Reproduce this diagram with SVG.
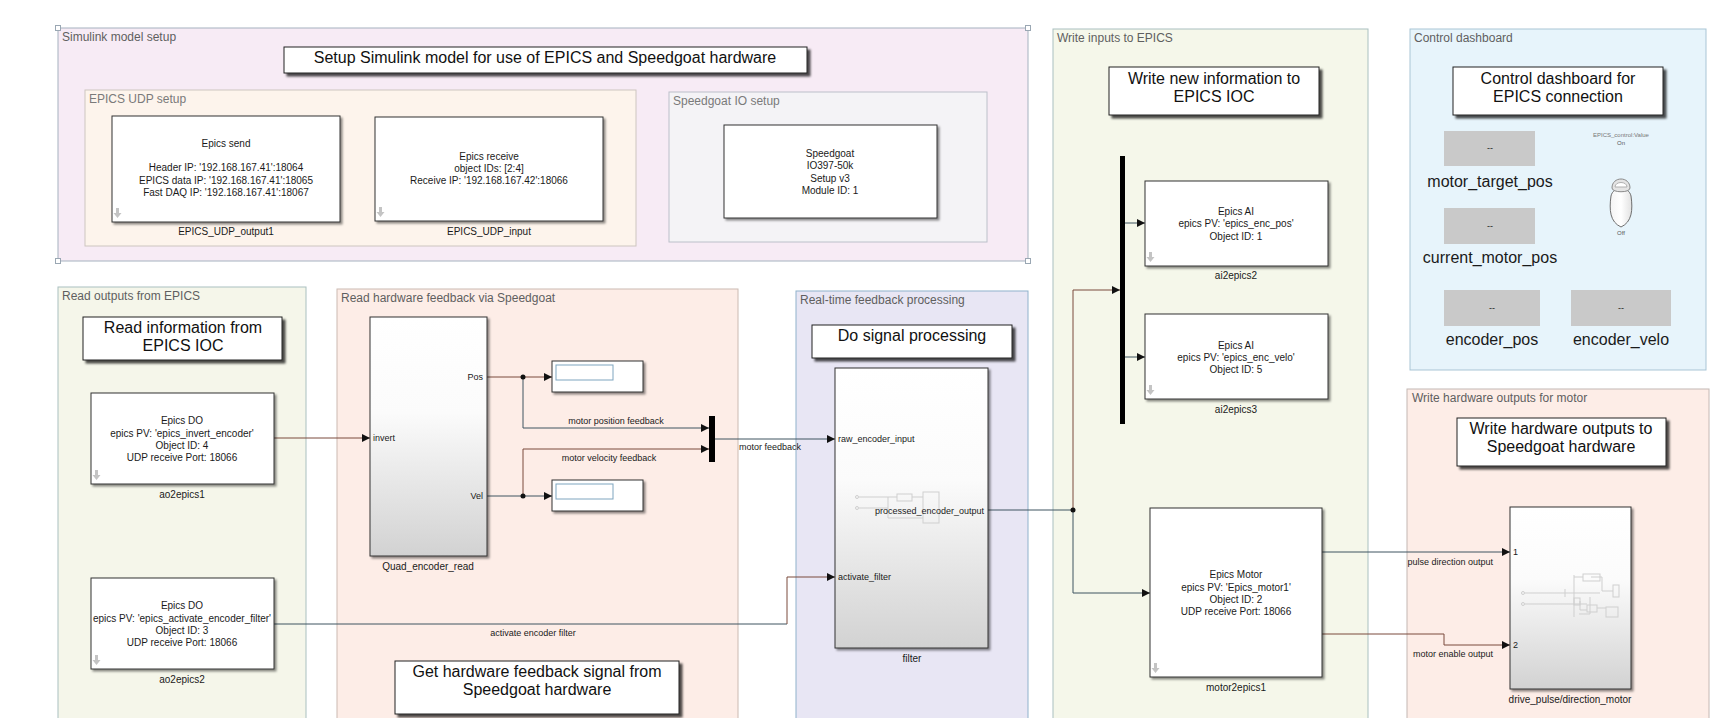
<svg xmlns="http://www.w3.org/2000/svg" width="1729" height="718" viewBox="0 0 1729 718">
<style>
text{font-family:"Liberation Sans",Arial,sans-serif;fill:#1a1a1a}
.area{stroke-width:1}
.alabel{font-size:12px;fill:#5f5f5f}
.title{fill:#fff;stroke:#222;stroke-width:1;filter:url(#tsh)}
.ttext{font-size:16px;text-anchor:middle;fill:#111}
.blk{fill:#fff;stroke:#333;stroke-width:1;filter:url(#bsh)}
.grad{fill:url(#g);stroke:#333;stroke-width:1;filter:url(#bsh)}
.bt{font-size:10px;text-anchor:middle}
.port{font-size:9px}
.pr{font-size:9px;text-anchor:end}
.cl{font-size:9px;text-anchor:middle}
.wire{fill:none;stroke:#3e5561;stroke-width:1}
.wb{fill:none;stroke:#7a4a3c;stroke-width:1}
.arr{marker-end:url(#ah)}
.dash{fill:#c9c9c9}
.dl{font-size:16px;text-anchor:middle;fill:#1a1a1a}
.icon{fill:none;stroke:#cfcfcf;stroke-width:1}
.dn{fill:#c4c4c4}
.handle{fill:#fff;stroke:#9aa7b3;stroke-width:1}
</style>
<defs>
<linearGradient id="g" x1="0" y1="0" x2="0" y2="1">
<stop offset="0" stop-color="#ffffff"/>
<stop offset="0.4" stop-color="#fbfbfb"/>
<stop offset="1" stop-color="#d2d2d2"/>
</linearGradient>
<linearGradient id="tg" x1="0" y1="0" x2="1" y2="0">
<stop offset="0" stop-color="#f4f4f4"/>
<stop offset="0.5" stop-color="#ffffff"/>
<stop offset="1" stop-color="#e2e2e2"/>
</linearGradient>
<filter id="bsh" x="-10%" y="-10%" width="130%" height="130%">
<feDropShadow dx="2" dy="2" stdDeviation="1" flood-color="#000" flood-opacity="0.45"/>
</filter>
<filter id="tsh" x="-10%" y="-20%" width="130%" height="150%">
<feDropShadow dx="3" dy="3" stdDeviation="1.2" flood-color="#000" flood-opacity="0.7"/>
</filter>
<marker id="ah" viewBox="0 0 10 10" refX="10" refY="5" markerWidth="8" markerHeight="8" markerUnits="userSpaceOnUse" orient="auto">
<path d="M0,0 L10,5 L0,10 Z" fill="#111"/>
</marker>
<g id="down">
<path d="M2,0 H5 V5 H7.5 L3.5,10 L-0.5,5 H2 Z"/>
</g>
</defs>
<rect x="0" y="0" width="1729" height="718" fill="#fff"/>

<!-- containers -->
<g id="area-simulink-setup">
<rect class="area" x="58" y="28" width="970" height="233" fill="#f7ebf5" stroke="#a5b2bf"/>
<text class="alabel" x="62" y="41">Simulink model setup</text>
<rect class="handle" x="55.5" y="25.5" width="5" height="5"/>
<rect class="handle" x="55.5" y="258.5" width="5" height="5"/>
<rect class="handle" x="1025.5" y="25.5" width="5" height="5"/>
<rect class="handle" x="1025.5" y="258.5" width="5" height="5"/>
</g>
<g id="area-epics-udp">
<rect class="area" x="85" y="90" width="551" height="156" fill="#fdf4ec" stroke="#cdc6c0"/>
<text class="alabel" x="89" y="103" style="fill:#7a7a7a">EPICS UDP setup</text>
</g>
<g id="area-speedgoat-io">
<rect class="area" x="669" y="92" width="318" height="150" fill="#f4f3f6" stroke="#bcc0ca"/>
<text class="alabel" x="673" y="105" style="fill:#7a7a7a">Speedgoat IO setup</text>
</g>
<g id="area-read-outputs">
<rect class="area" x="58" y="287" width="248" height="445" fill="#f5f6ea" stroke="#a9c0c0"/>
<text class="alabel" x="62" y="300">Read outputs from EPICS</text>
</g>
<g id="area-read-hw">
<rect class="area" x="337" y="289" width="401" height="445" fill="#fdede7" stroke="#cbbab2"/>
<text class="alabel" x="341" y="302">Read hardware feedback via Speedgoat</text>
</g>
<g id="area-realtime">
<rect class="area" x="796" y="291" width="232" height="445" fill="#e8e6f4" stroke="#90b2cc"/>
<text class="alabel" x="800" y="304">Real-time feedback processing</text>
</g>
<g id="area-write-inputs">
<rect class="area" x="1053" y="29" width="315" height="705" fill="#f5f7ea" stroke="#a9c0c0"/>
<text class="alabel" x="1057" y="42">Write inputs to EPICS</text>
</g>
<g id="area-dashboard">
<rect class="area" x="1410" y="29" width="296" height="341" fill="#e7f4fb" stroke="#a9c5d5"/>
<text class="alabel" x="1414" y="42">Control dashboard</text>
</g>
<g id="area-write-hw">
<rect class="area" x="1407" y="389" width="302" height="345" fill="#fdede7" stroke="#c4b8b4"/>
<text class="alabel" x="1412" y="402">Write hardware outputs for motor</text>
</g>

<!-- annotations -->
<g id="note-setup">
<rect class="title" x="284" y="47" width="523" height="26"/>
<text class="ttext" x="545" y="63">Setup Simulink model for use of EPICS and Speedgoat hardware</text>
</g>
<g id="note-read">
<rect class="title" x="83" y="317" width="199" height="43"/>
<text class="ttext" x="183" y="333">Read information from</text>
<text class="ttext" x="183" y="351">EPICS IOC</text>
</g>
<g id="note-get-hw">
<rect class="title" x="395" y="661" width="284" height="53"/>
<text class="ttext" x="537" y="677">Get hardware feedback signal from</text>
<text class="ttext" x="537" y="695">Speedgoat hardware</text>
</g>
<g id="note-signal">
<rect class="title" x="812" y="325" width="200" height="33"/>
<text class="ttext" x="912" y="341">Do signal processing</text>
</g>
<g id="note-write-new">
<rect class="title" x="1109" y="67" width="210" height="48"/>
<text class="ttext" x="1214" y="84">Write new information to</text>
<text class="ttext" x="1214" y="102">EPICS IOC</text>
</g>
<g id="note-dashboard">
<rect class="title" x="1453" y="67" width="210" height="48"/>
<text class="ttext" x="1558" y="84">Control dashboard for</text>
<text class="ttext" x="1558" y="102">EPICS connection</text>
</g>
<g id="note-write-hw">
<rect class="title" x="1457" y="418" width="209" height="48"/>
<text class="ttext" x="1561" y="434">Write hardware outputs to</text>
<text class="ttext" x="1561" y="452">Speedgoat hardware</text>
</g>

<!-- connectors -->
<g id="connectors">
<path class="wb arr" d="M274,438 H370"/>
<path class="wb arr" d="M487,377 H552"/>
<path class="wire arr" d="M523,377 V428 H709"/>
<path class="wire arr" d="M487,496 H552"/>
<path class="wb arr" d="M523,496 V449 H709"/>
<path class="wire arr" d="M715,439 H835"/>
<path class="wire" d="M274,624 H787"/>
<path class="wb arr" d="M787,624 V577 H835"/>
<path class="wire" d="M988,510 H1073"/>
<path class="wb arr" d="M1073,510 V290 H1120"/>
<path class="wire arr" d="M1073,510 V593 H1150"/>
<path class="wire arr" d="M1125,223 H1145"/>
<path class="wire arr" d="M1125,357 H1145"/>
<path class="wire arr" d="M1322,552 H1510"/>
<path class="wb arr" d="M1322,634 H1444 V645 H1510"/>
<circle cx="523" cy="377" r="2.5" fill="#111"/>
<circle cx="523" cy="496" r="2.5" fill="#111"/>
<circle cx="1073" cy="510" r="2.5" fill="#111"/>
<text class="cl" x="616" y="424">motor position feedback</text>
<text class="cl" x="609" y="461">motor velocity feedback</text>
<text class="cl" x="770" y="450">motor feedback</text>
<text class="cl" x="533" y="636">activate encoder filter</text>
<text class="pr" x="1493" y="565">pulse direction output</text>
<text class="pr" x="1493" y="657">motor enable output</text>
</g>

<!-- blocks -->
<g id="EPICS_UDP_output1">
<rect class="blk" x="112" y="116" width="228" height="106"/>
<text class="bt" x="226" y="147">Epics send</text>
<text class="bt" x="226" y="171">Header IP: '192.168.167.41':18064</text>
<text class="bt" x="226" y="184">EPICS data IP: '192.168.167.41':18065</text>
<text class="bt" x="226" y="196">Fast DAQ IP: '192.168.167.41':18067</text>
<use href="#down" x="114" y="208" class="dn"/>
<text class="bt" x="226" y="235">EPICS_UDP_output1</text>
</g>
<g id="EPICS_UDP_input">
<rect class="blk" x="375" y="117" width="228" height="104"/>
<text class="bt" x="489" y="160">Epics receive</text>
<text class="bt" x="489" y="172">object IDs: [2:4]</text>
<text class="bt" x="489" y="184">Receive IP: '192.168.167.42':18066</text>
<use href="#down" x="377" y="207" class="dn"/>
<text class="bt" x="489" y="235">EPICS_UDP_input</text>
</g>
<g id="Speedgoat_setup">
<rect class="blk" x="724" y="125" width="213" height="93"/>
<text class="bt" x="830" y="157">Speedgoat</text>
<text class="bt" x="830" y="169">IO397-50k</text>
<text class="bt" x="830" y="182">Setup v3</text>
<text class="bt" x="830" y="194">Module ID: 1</text>
</g>
<g id="ao2epics1">
<rect class="blk" x="91" y="393" width="183" height="91"/>
<text class="bt" x="182" y="424">Epics DO</text>
<text class="bt" x="182" y="437">epics PV: 'epics_invert_encoder'</text>
<text class="bt" x="182" y="449">Object ID: 4</text>
<text class="bt" x="182" y="461">UDP receive Port: 18066</text>
<use href="#down" x="93" y="470" class="dn"/>
<text class="bt" x="182" y="498">ao2epics1</text>
</g>
<g id="ao2epics2">
<rect class="blk" x="91" y="578" width="183" height="91"/>
<text class="bt" x="182" y="609">Epics DO</text>
<text class="bt" x="182" y="622">epics PV: 'epics_activate_encoder_filter'</text>
<text class="bt" x="182" y="634">Object ID: 3</text>
<text class="bt" x="182" y="646">UDP receive Port: 18066</text>
<use href="#down" x="93" y="655" class="dn"/>
<text class="bt" x="182" y="683">ao2epics2</text>
</g>
<g id="Quad_encoder_read">
<rect class="grad" x="370" y="317" width="117" height="239"/>
<text class="port" x="373" y="441">invert</text>
<text class="pr" x="483" y="380">Pos</text>
<text class="pr" x="483" y="499">Vel</text>
<text class="bt" x="428" y="570">Quad_encoder_read</text>
</g>
<g id="display-pos">
<rect class="blk" x="552" y="361" width="91" height="31"/>
<rect x="556" y="365" width="57" height="15" fill="#fff" stroke="#7ea5bf"/>
</g>
<g id="display-vel">
<rect class="blk" x="552" y="480" width="91" height="31"/>
<rect x="556" y="484" width="57" height="15" fill="#fff" stroke="#7ea5bf"/>
</g>
<g id="mux">
<rect x="709" y="416" width="6" height="46" fill="#000"/>
</g>
<g id="filter">
<rect class="grad" x="835" y="368" width="153" height="280"/>
<g class="icon">
<circle cx="857" cy="497" r="1.5"/>
<circle cx="857" cy="508" r="1.5"/>
<path d="M859,497 H897 M859,508 H888 M888,497 V518 H923 M912,497 H923"/>
<rect x="897" y="494" width="15" height="7"/>
<rect x="923" y="492" width="16" height="31"/>
</g>
<text class="port" x="838" y="442">raw_encoder_input</text>
<text class="port" x="838" y="580">activate_filter</text>
<text class="pr" x="984" y="514">processed_encoder_output</text>
<text class="bt" x="912" y="662">filter</text>
</g>
<g id="bus-creator">
<rect x="1120" y="156" width="5" height="268" fill="#000"/>
</g>
<g id="ai2epics2">
<rect class="blk" x="1145" y="181" width="183" height="85"/>
<text class="bt" x="1236" y="215">Epics AI</text>
<text class="bt" x="1236" y="227">epics PV: 'epics_enc_pos'</text>
<text class="bt" x="1236" y="240">Object ID: 1</text>
<use href="#down" x="1147" y="252" class="dn"/>
<text class="bt" x="1236" y="279">ai2epics2</text>
</g>
<g id="ai2epics3">
<rect class="blk" x="1145" y="314" width="183" height="85"/>
<text class="bt" x="1236" y="349">Epics AI</text>
<text class="bt" x="1236" y="361">epics PV: 'epics_enc_velo'</text>
<text class="bt" x="1236" y="373">Object ID: 5</text>
<use href="#down" x="1147" y="385" class="dn"/>
<text class="bt" x="1236" y="413">ai2epics3</text>
</g>
<g id="motor2epics1">
<rect class="blk" x="1150" y="508" width="172" height="169"/>
<text class="bt" x="1236" y="578">Epics Motor</text>
<text class="bt" x="1236" y="591">epics PV: 'Epics_motor1'</text>
<text class="bt" x="1236" y="603">Object ID: 2</text>
<text class="bt" x="1236" y="615">UDP receive Port: 18066</text>
<use href="#down" x="1152" y="663" class="dn"/>
<text class="bt" x="1236" y="691">motor2epics1</text>
</g>
<g id="drive_pulse_direction_motor">
<rect class="grad" x="1510" y="507" width="121" height="182"/>
<g class="icon">
<circle cx="1523" cy="593" r="1.5"/>
<circle cx="1523" cy="604" r="1.5"/>
<path d="M1525,593 H1600 M1525,604 H1587 M1565,589 V597 M1574,575 V617 M1574,577 H1583 M1591,577 H1602 V591 H1613 M1580,601 V610 H1587 M1597,608 H1606 M1579,614 H1590 V597"/>
<rect x="1583" y="574" width="17" height="7"/>
<rect x="1613" y="585" width="6" height="12"/>
<rect x="1574" y="598" width="6" height="7"/>
<rect x="1587" y="605" width="10" height="7"/>
<rect x="1606" y="607" width="12" height="10"/>
</g>
<text class="port" x="1513" y="555">1</text>
<text class="port" x="1513" y="648">2</text>
<text class="bt" x="1570" y="703">drive_pulse/direction_motor</text>
</g>

<!-- dashboard widgets -->
<g id="dash-motor-target-pos">
<rect class="dash" x="1444" y="131" width="91" height="35"/>
<text class="bt" x="1490" y="151" style="font-size:9px">--</text>
<text class="dl" x="1490" y="187">motor_target_pos</text>
</g>
<g id="dash-current-motor-pos">
<rect class="dash" x="1444" y="208" width="91" height="36"/>
<text class="bt" x="1490" y="229" style="font-size:9px">--</text>
<text class="dl" x="1490" y="263">current_motor_pos</text>
</g>
<g id="dash-encoder-pos">
<rect class="dash" x="1444" y="290" width="96" height="36"/>
<text class="bt" x="1492" y="311" style="font-size:9px">--</text>
<text class="dl" x="1492" y="345">encoder_pos</text>
</g>
<g id="dash-encoder-velo">
<rect class="dash" x="1571" y="290" width="100" height="36"/>
<text class="bt" x="1621" y="311" style="font-size:9px">--</text>
<text class="dl" x="1621" y="345">encoder_velo</text>
</g>
<g id="dash-toggle">
<text class="bt" x="1621" y="137" style="font-size:6px;fill:#777">EPICS_control:Value</text>
<text class="bt" x="1621" y="145" style="font-size:6px;fill:#555">On</text>
<path d="M1611,196 C1609,210 1610,222 1621,227 C1632,222 1633,210 1631,196 C1629,186 1613,186 1611,196 Z" fill="url(#tg)" stroke="#6e6e6e"/>
<path d="M1612,188 C1612,176 1630,176 1630,188 C1630,193 1612,193 1612,188 Z" fill="#e4e4e4" stroke="#8a8a8a"/>
<path d="M1615,187 C1615,181 1627,181 1627,187 Z" fill="#fff" stroke="#b0b0b0"/>
<text class="bt" x="1621" y="235" style="font-size:6px;fill:#555">Off</text>
</g>
</svg>
